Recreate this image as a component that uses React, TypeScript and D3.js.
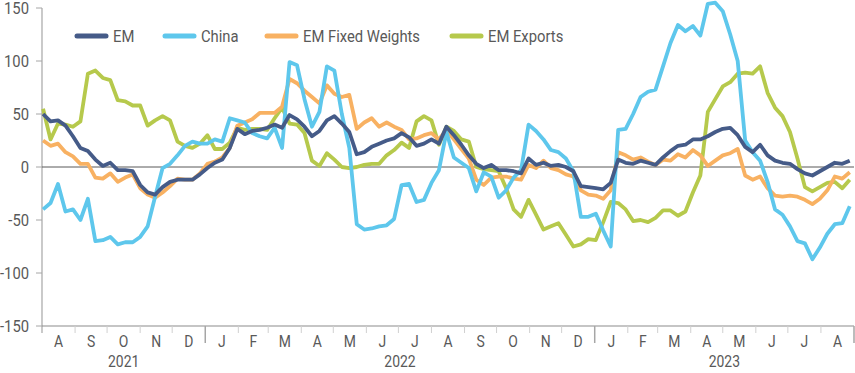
import React, { useEffect, useRef } from "react";
import * as d3 from "d3";

// weekly readings, Aug 2021 - Aug 2023
const em = [
  50, 43, 44, 39, 29, 18, 15, 7, 1, 4,
  -3, -3, -4, -17, -24, -26, -19, -14, -12, -12,
  -12, -7, -1, 4, 7, 18, 36, 31, 34, 35,
  37, 40, 37, 49, 45, 38, 29, 34, 44, 48,
  41, 33, 12, 14, 19, 22, 25, 27, 32, 28,
  20, 22, 26, 22, 38, 30, 21, 11, 3, -1,
  2, -3, -3, -4, -6, 8, 2, 4, 1, 2,
  0, -4, -18, -19, -20, -21, -15, 7, 4, 3,
  6, 4, 2, 9, 15, 20, 21, 26, 26, 29,
  33, 36, 37, 30, 19, 14, 21, 11, 6, 4,
  3, -2, -6, -8, -4, 0, 4, 3, 6,
];
const china = [
  -40, -34, -16, -42, -40, -50, -30, -70, -69, -66,
  -73, -71, -71, -66, -56, -28, -1, 3, 11, 20,
  24, 22, 22, 26, 24, 46, 44, 42, 32, 29,
  27, 37, 18, 99, 96, 64, 38, 52, 95, 91,
  50, 18, -54, -59, -58, -56, -55, -49, -17, -16,
  -33, -31, -15, -3, 33, 9, 4, -1, -23, -5,
  -9, -29, -22, -10, -3, 40, 34, 26, 16, 14,
  8, -4, -47, -47, -44, -60, -75, 35, 36, 50,
  66, 71, 73, 95, 117, 134, 128, 133, 124, 154,
  155, 147, 125, 100, 25, 14, 6, -14, -40, -45,
  -56, -70, -72, -87, -76, -63, -54, -53, -37,
];
const emFixedWeights = [
  25, 20, 22, 14, 10, 3, 3, -10, -11, -6,
  -14, -10, -7, -20, -26, -29, -24, -18, -11, -12,
  -12, -6, 3, 5, 9, 18, 39, 42, 45, 51,
  51, 51, 57, 83, 79, 72, 66, 60, 77, 69,
  66, 68, 36, 42, 46, 38, 42, 38, 35, 26,
  27, 30, 32, 26, 35, 26, 17, 8, -12, -17,
  -10, -9, -9, -11, -12, 2, -1, 6, -1, -3,
  -7, -9, -22, -26, -27, -30, -22, 14, 11, 7,
  9, 5, 2, 7, 6, 12, 9, 16, 11, 1,
  6, 11, 13, 17, -8, -12, -9, -20, -27, -28,
  -27, -28, -31, -35, -30, -22, -9, -11, -5,
];
const emExports = [
  55, 26, 41, 40, 38, 43, 88, 91, 84, 82,
  63, 62, 58, 58, 39, 44, 48, 44, 24, 20,
  18, 22, 30, 17, 17, 23, 37, 35, 36, 36,
  35, 46, 56, 41, 40, 32, 6, 1, 13, 7,
  0, -1, 0, 2, 3, 3, 11, 16, 23, 18,
  43, 48, 44, 21, 38, 34, 26, 24, 0, -2,
  -3, -4, -20, -40, -47, -31, -45, -59, -56, -53,
  -64, -75, -73, -68, -69, -52, -33, -34, -40, -51,
  -50, -52, -48, -41, -41, -46, -42, -24, -8, 52,
  64, 76, 80, 88, 89, 88, 95, 70, 56, 48,
  33, 8, -19, -23, -19, -15, -14, -20, -12,
];

const seriesNames = ["EM", "China", "EM Fixed Weights", "EM Exports"];
const seriesValues = [em, china, emFixedWeights, emExports];
const seriesColors = ["#455b88", "#5ec7ec", "#f8b162", "#b6c94c"];
const yTicks = [-150, -100, -50, 0, 50, 100, 150];
const monthLetters = ["J", "F", "M", "A", "M", "J", "J", "A", "S", "O", "N", "D"];
const years = ["2021", "2022", "2023"];
const firstWeek = new Date(2021, 7, 2);
const axisStart = new Date(2021, 7, 1);
const axisEnd = new Date(2023, 8, 1);

const W = 855, H = 373;
const FONT = "Roboto, 'Liberation Sans', sans-serif";
const TXT = "#595959";
const SQUEEZE = 0.87; // narrow look of the original font

// condensed text: draw at (x, y) with a horizontal squeeze
function label(parent: any, x: number, y: number, str: string, size: number, anchor: string) {
  parent.append("g").attr("transform", `translate(${x},${y}) scale(${SQUEEZE},1)`)
    .append("text").attr("text-anchor", anchor).attr("fill", TXT)
    .style("font-family", FONT).style("font-size", size + "px").text(str);
}

export default function App() {
  const ref = useRef<SVGSVGElement>(null);

  useEffect(() => {
    document.body.style.margin = "0";
    const svg = d3.select(ref.current);
    svg.selectAll("*").remove();

    const x = d3.scaleTime().domain([axisStart, axisEnd]).range([42, 854]);
    const y = d3.scaleLinear().domain([-150, 150]).range([326, 8]);

    // y axis
    svg.append("line").attr("x1", 42).attr("x2", 42).attr("y1", 8).attr("y2", 333)
      .attr("stroke", "#a6a6a6").attr("stroke-width", 1.2);
    yTicks.forEach(t => {
      svg.append("line").attr("x1", 36).attr("x2", 42).attr("y1", y(t)).attr("y2", y(t))
        .attr("stroke", "#a6a6a6");
      label(svg, 29, y(t) + 6, String(t), 17, "end");
    });

    // bottom axis line + zero line
    svg.append("line").attr("x1", 42).attr("x2", 854).attr("y1", y(-150)).attr("y2", y(-150))
      .attr("stroke", "#8c8c8c").attr("stroke-width", 1.2);
    svg.append("line").attr("x1", 42).attr("x2", 854).attr("y1", y(0)).attr("y2", y(0))
      .attr("stroke", "#595959").attr("stroke-width", 1);

    // month ticks and labels
    const months = d3.timeMonth.range(axisStart, axisEnd);
    months.forEach(m => {
      const next = d3.timeMonth.offset(m, 1);
      const isYear = m.getMonth() === 0;
      if (m > axisStart) {
        svg.append("line").attr("x1", x(m)).attr("x2", x(m)).attr("y1", 326)
          .attr("y2", isYear ? 343 : 333).attr("stroke", isYear ? "#a6a6a6" : "#d0d0d0")
          .attr("stroke-width", isYear ? 1.5 : 1);
      }
      label(svg, (x(m) + x(next)) / 2, 347, monthLetters[m.getMonth()], 16, "middle");
    });
    svg.append("line").attr("x1", 854).attr("x2", 854).attr("y1", 326).attr("y2", 343)
      .attr("stroke", "#a6a6a6").attr("stroke-width", 1.5);

    years.forEach(yr => {
      const a = d3.max([axisStart, new Date(+yr, 0, 1)]) as Date;
      const b = d3.min([axisEnd, new Date(+yr + 1, 0, 1)]) as Date;
      label(svg, (x(a) + x(b)) / 2, 367, yr, 16, "middle");
    });

    // lines
    const line = d3.line<number>()
      .x((_, i) => x(d3.timeDay.offset(firstWeek, 7 * i)))
      .y(d => y(d));
    [3, 2, 1, 0].forEach(k => {
      svg.append("path").datum(seriesValues[k]).attr("d", line)
        .attr("fill", "none").attr("stroke", seriesColors[k])
        .attr("stroke-width", 3.8).attr("stroke-linejoin", "round");
    });

    // legend
    const legendX = [77, 165, 267, 452];
    seriesNames.forEach((name, k) => {
      const g = svg.append("g").attr("transform", `translate(${legendX[k]},36)`);
      g.append("line").attr("x1", 0).attr("x2", 29).attr("stroke", seriesColors[k])
        .attr("stroke-width", 5).attr("stroke-linecap", "round");
      label(g, 36, 6, name, 17, "start");
    });
  }, []);

  return <svg ref={ref} width={W} height={H} style={{ display: "block", background: "#fff" }} />;
}
